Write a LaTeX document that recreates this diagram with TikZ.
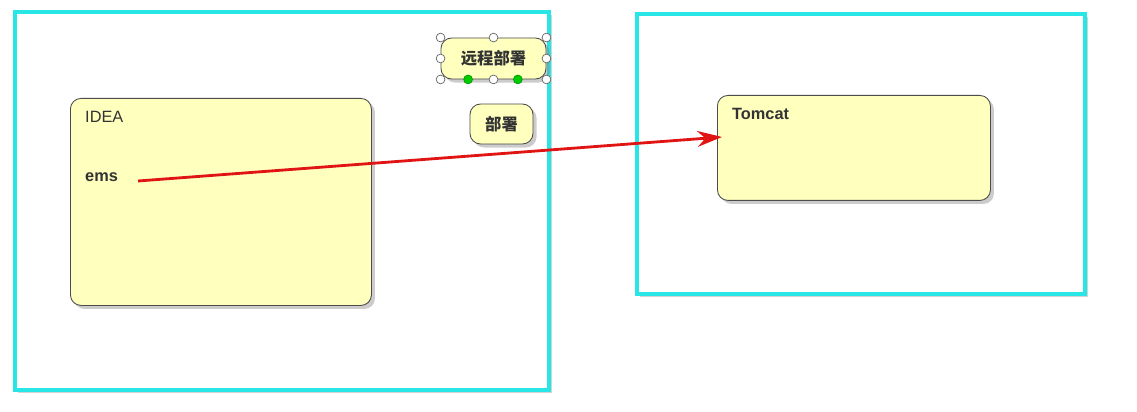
\documentclass[tikz,border=0pt]{standalone}
\usepackage{fontspec}
\setmainfont{Liberation Sans}
\newfontfamily\cjk{Noto Sans CJK SC}
\usetikzlibrary{shadows,arrows.meta,calc}
\definecolor{frame}{RGB}{40,230,230}
\definecolor{note}{RGB}{255,255,190}
\definecolor{arrowred}{RGB}{225,20,20}
\tikzset{
  framebox/.style={draw=frame, fill=white, line width=2.4pt, drop shadow={shadow xshift=1.5pt, shadow yshift=-1.5pt, opacity=0.35}},
  notebox/.style={draw=black!70, fill=note, rounded corners=6pt, line width=0.5pt, drop shadow={shadow xshift=2pt, shadow yshift=-2pt, opacity=0.4}},
  handle/.style={circle, draw=black!60, fill=white, inner sep=0pt, minimum size=5pt, line width=0.4pt},
  grip/.style={circle, draw=green!60!black, fill=green!80!black, inner sep=0pt, minimum size=5pt}
}
\begin{document}
\begin{tikzpicture}[x=0.02cm, y=-0.02cm, font=\fontsize{9.3}{10}\selectfont\bfseries, text=black!80]
    \useasboundingbox (0,0) rectangle (1137,412);

    % frames
    \draw [framebox] (15,12) rectangle (549,390);
    \draw [framebox] (637,14) rectangle (1085,294);

    % notes
    \node [notebox, anchor=north west, minimum width=301*0.02cm, minimum height=207*0.02cm] (idea) at (70,98) {};
    \node [notebox, anchor=north west, minimum width=273*0.02cm, minimum height=105*0.02cm] (tomcat) at (717,95) {};
    \node [notebox, minimum width=105*0.02cm, minimum height=41*0.02cm] (remote) at (493.5,58.5) {\cjk\bfseries 远程部署};
    \node [notebox, minimum width=63*0.02cm, minimum height=40*0.02cm] (deploy) at (501.5,124) {\cjk\bfseries 部署};

    \node [anchor=west, font=\fontsize{9.3}{10}\selectfont] (idealabel) at (79,117) {IDEA};
    \node [anchor=west] (ems) at (79,177) {ems};
    \node [anchor=west] (tomcatlabel) at (726,114) {Tomcat};

    % selection handles
    \foreach \p in {north west, north, north east, west, east, south west, south, south east}
        \node [handle] at (remote.\p) {};
    \node [grip] at ($(remote.south west)!0.26!(remote.south east)$) {};
    \node [grip] at ($(remote.south west)!0.73!(remote.south east)$) {};

    % deployment arrow
    \coordinate (from) at (138,181);
    \coordinate (to) at (722,137);
    \draw [arrowred, line width=1.6pt, -{Stealth[length=14pt, width=9pt]}] (from) -- (to);
\end{tikzpicture}
\end{document}
